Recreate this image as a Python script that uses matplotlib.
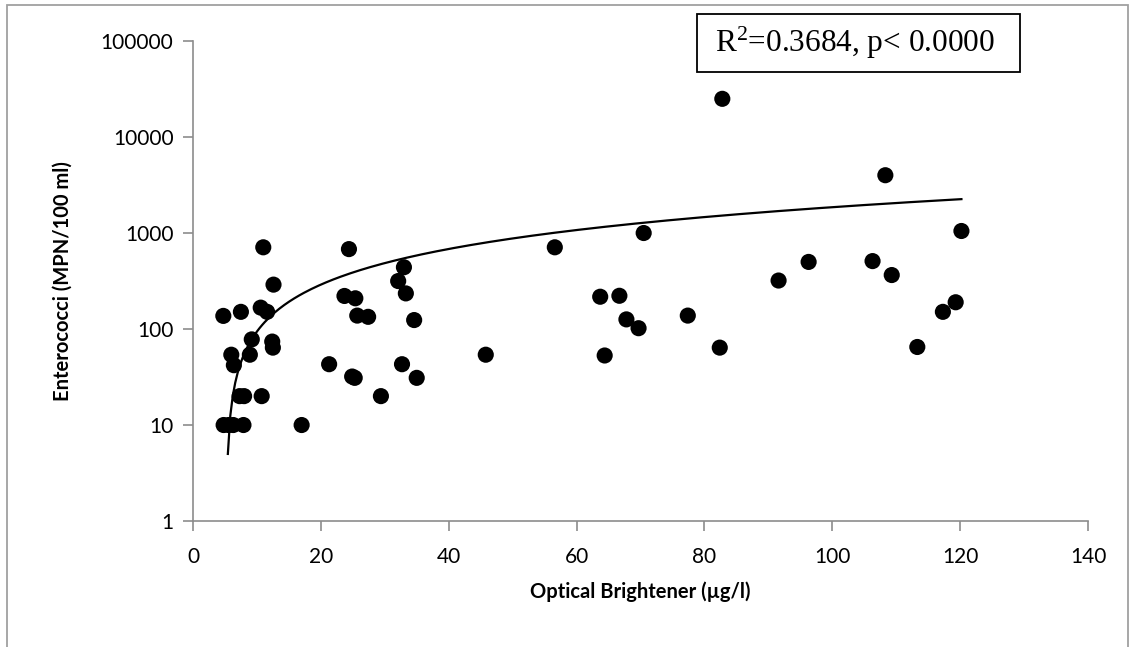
"""
Enterococci vs optical brightener scatter with linear trendline on a log axis
"""

import matplotlib

matplotlib.use("Agg")
import matplotlib.pyplot as plt  # type: ignore
import numpy as np
from matplotlib.patches import Rectangle

# optical brightener (ug/l) and enterococci (MPN/100 ml)
brightener = [
    4.8, 5.6, 6.3, 7.9, 17.0,
    4.75, 7.5, 10.6, 11.6, 11.0, 12.6,
    9.2, 12.4, 12.5, 6.0, 8.9, 6.4, 7.3, 8.0, 10.75,
    24.4, 33.0, 32.1, 33.3, 23.7, 25.4, 25.7, 27.4, 34.6,
    21.3, 32.7, 24.9, 25.3, 35.0, 29.4, 45.8,
    56.6, 70.5, 63.7, 66.7, 67.8, 69.7, 64.4, 77.4, 82.4, 82.8,
    108.3, 120.2, 96.3, 91.6, 106.3, 109.3, 119.3, 117.3, 113.3,
]
enterococci = [
    10, 10, 10, 10, 10,
    137, 151, 167, 151, 710, 290,
    78, 74, 64, 54, 54, 42, 20, 20, 20,
    680, 440, 316, 235, 221, 209, 138, 134, 124,
    43, 43, 32, 31, 31, 20, 54,
    710, 1000, 217, 222, 126, 102, 53, 138, 64, 25000,
    4000, 1050, 500, 320, 510, 365, 190, 151, 65,
]

# linear trendline as drawn in the chart
trend_slope = 19.6
trend_intercept = -102.0
stats_text = "R$^2$=0.3684, p< 0.0000"

y_ticks = [1, 10, 100, 1000, 10000, 100000]
x_ticks = [0, 20, 40, 60, 80, 100, 120, 140]

plt.rcParams["font.family"] = ["Lato", "DejaVu Sans"]
plt.rcParams["mathtext.fontset"] = "custom"
plt.rcParams["mathtext.rm"] = "Liberation Serif"
plt.rcParams["mathtext.it"] = "Liberation Serif:italic"
axis_grey = "#8c8c8c"

fig = plt.figure(figsize=(11.35, 6.47), dpi=100)
ax = fig.add_axes([0.170, 0.1947, 0.7886, 0.7419])

# trendline, only where it is positive on the log axis
x_start = (5.0 - trend_intercept) / trend_slope
xs = np.linspace(x_start, max(brightener), 300)
ax.plot(xs, trend_slope * xs + trend_intercept, color="black", lw=1.6, zorder=2)

ax.scatter(brightener, enterococci, s=135, color="black", edgecolors="none", zorder=3)

ax.set_yscale("log")
ax.set_ylim(1, 100000)
ax.set_xlim(0, 140)
ax.set_yticks(y_ticks)
ax.set_yticklabels([str(t) for t in y_ticks])
ax.yaxis.set_minor_locator(matplotlib.ticker.NullLocator())
ax.set_xticks(x_ticks)
ax.set_xticklabels([str(t) for t in x_ticks])

for side in ("top", "right"):
    ax.spines[side].set_visible(False)
for side in ("left", "bottom"):
    ax.spines[side].set_color(axis_grey)
    ax.spines[side].set_linewidth(1.2)
ax.tick_params(axis="both", colors=axis_grey, length=7, width=1.2,
               labelcolor="black", labelsize=15, pad=7)
ax.tick_params(axis="x", pad=12)

ax.set_xlabel("Optical Brightener (µg/l)", fontsize=14.5, fontweight="bold", labelpad=10)
ax.set_ylabel("Enterococci (MPN/100 ml)", fontsize=14.5, fontweight="bold", labelpad=20)

# R^2 box
fig.patches.append(Rectangle((0.614, 0.8887), 0.2846, 0.0896, transform=fig.transFigure,
                             facecolor="white", edgecolor="black", lw=1.3))
fig.text(0.7533, 0.9335, stats_text, ha="center", va="center", fontsize=22.5,
         family="Liberation Serif")

# chart area border
fig.patches.append(Rectangle((0.0062, -0.01), 0.988, 1.002, transform=fig.transFigure,
                             fill=False, edgecolor="#a0a0a0", lw=1.3))

fig.savefig("out.png", dpi=100)
